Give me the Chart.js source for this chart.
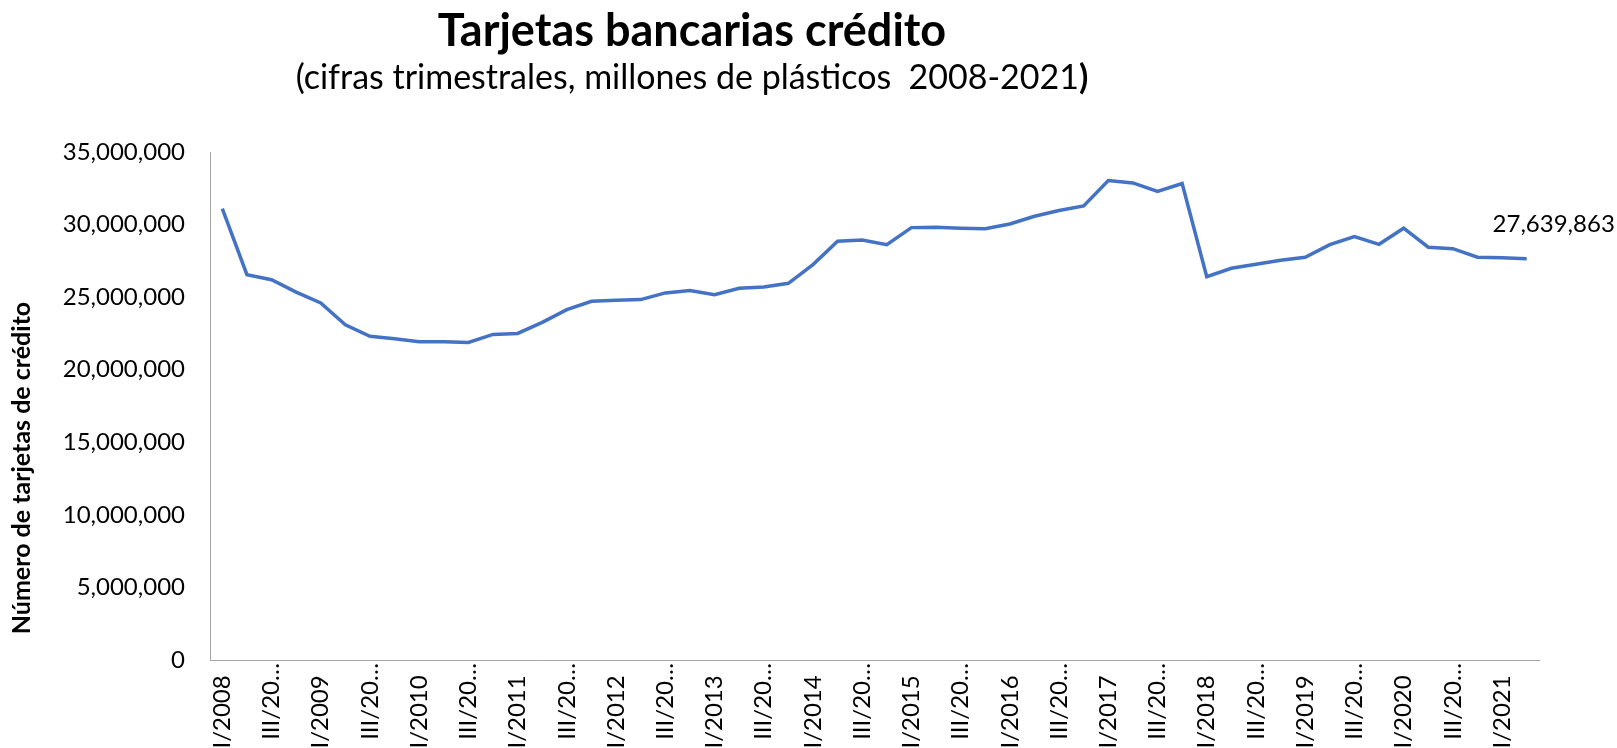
<!DOCTYPE html>
<html>
<head>
<meta charset="utf-8">
<script src="https://cdn.jsdelivr.net/npm/chart.js@4.4.1/dist/chart.umd.min.js"></script>
<style>
    html, body { margin: 0; padding: 0; background: #fff; overflow: hidden; }
    #wrap { position: relative; width: 1617px; height: 748px; }
    .title { position: absolute; left: 0; width: 1384px; text-align: center; color: #000; font-family: Lato, "Noto Sans", sans-serif; white-space: nowrap; }
    #main-title { top: 2px; font-size: 45px; line-height: 54px; font-weight: bold; }
    #sub-title { top: 55px; font-size: 34px; line-height: 41px; }
    canvas { position: absolute; left: 0; top: 0; }
</style>
</head>
<body>
<div id="wrap">
    <canvas id="cards-chart" width="1617" height="748"></canvas>
    <div class="title" id="main-title">Tarjetas bancarias crédito</div>
    <div class="title" id="sub-title">(cifras trimestrales, millones de plásticos &nbsp;2008-2021<b>)</b></div>
</div>
<script>
/* -------- DATA START -------- */
const years = [2008, 2009, 2010, 2011, 2012, 2013, 2014, 2015, 2016, 2017, 2018, 2019, 2020, 2021];
const quarters = ["I", "II", "III", "IV"];
const lastQuarterCount = 2; // 2021 ends at II

// credit cards per quarter, I/2008 .. II/2021
const creditCards = [
    31100000, 26550000, 26200000, 25350000,
    24600000, 23100000, 22300000, 22140000,
    21930000, 21930000, 21880000, 22430000,
    22500000, 23260000, 24140000, 24710000,
    24780000, 24830000, 25290000, 25450000,
    25170000, 25610000, 25700000, 25950000,
    27240000, 28850000, 28940000, 28620000,
    29790000, 29810000, 29750000, 29720000,
    30040000, 30570000, 30970000, 31280000,
    33030000, 32870000, 32280000, 32830000,
    26410000, 26990000, 27260000, 27540000,
    27750000, 28620000, 29170000, 28640000,
    29750000, 28440000, 28340000, 27750000,
    27720000, 27639863
];

const yTicks = [0, 5000000, 10000000, 15000000, 20000000, 25000000, 30000000, 35000000];
const yAxisTitle = "Número de tarjetas de crédito";
/* -------- DATA END -------- */

/* -------- GLOBAL VARIABLES START -------- */
const FONT = "Lato, 'Noto Sans', sans-serif";
const LINE_COLOR = "#4472C4";
const AXIS_COLOR = "#a6a6a6";
/* -------- GLOBAL VARIABLES END -------- */

/* -------- FUNCTIONS START -------- */
function buildLabels() {
    const labels = [];
    years.forEach((year, i) => {
        const count = i === years.length - 1 ? lastQuarterCount : quarters.length;
        for (let q = 0; q < count; q++) {
            labels.push(quarters[q] + "/" + year);
        }
    });
    return labels;
}

function formatNumber(value) {
    return value.toLocaleString("en-US");
}

// Excel shows every second label and cuts the long ones;
// full labels sit a bit lower than the cut ones, hence the trailing spaces
function xTickLabel(value, index) {
    if (index % 2 !== 0) return "";
    const label = this.getLabelForValue(value);
    return label.startsWith("III/") ? label.slice(0, 6) + "…" : label + "  ";
}

// value label next to the last point + y axis title (sits below the axis centre in the original)
const extraText = {
    id: "extraText",
    afterDatasetsDraw(chart) {
        const meta = chart.getDatasetMeta(0);
        const point = meta.data[meta.data.length - 1];
        const ctx = chart.ctx;
        ctx.save();
        ctx.fillStyle = "#000";
        ctx.textAlign = "center";
        ctx.textBaseline = "middle";
        ctx.font = "24px " + FONT;
        ctx.fillText(formatNumber(creditCards[creditCards.length - 1]), point.x + 27, point.y - 35);

        ctx.font = "bold 25px " + FONT;
        ctx.translate(22, chart.chartArea.top + (chart.chartArea.bottom - chart.chartArea.top) / 2 + 62);
        ctx.rotate(-Math.PI / 2);
        ctx.fillText(yAxisTitle, 0, 0);
        ctx.restore();
    }
};
/* -------- FUNCTIONS END -------- */

/* -------- PROGRAM START -------- */
const ctx = document.getElementById("cards-chart").getContext("2d");
new Chart(ctx, {
    type: "line",
    data: {
        labels: buildLabels(),
        datasets: [{
            data: creditCards,
            borderColor: LINE_COLOR,
            borderWidth: 3.5,
            pointRadius: 0,
            tension: 0,
            fill: false
        }]
    },
    options: {
        responsive: false,
        animation: false,
        layout: { padding: { top: 152, right: 78, left: 0, bottom: 0 } },
        plugins: {
            legend: { display: false },
            tooltip: { enabled: false }
        },
        scales: {
            x: {
                offset: true,
                grid: { display: false, drawTicks: false, tickLength: 0 },
                border: { display: true, color: AXIS_COLOR, width: 1 },
                ticks: {
                    autoSkip: false,
                    maxRotation: 90,
                    minRotation: 90,
                    padding: 3,
                    color: "#000",
                    font: { family: FONT, size: 24 },
                    callback: xTickLabel
                },
                afterFit(scale) { scale.height = 88; }
            },
            y: {
                min: 0,
                max: 35000000,
                afterBuildTicks(scale) { scale.ticks = yTicks.map(v => ({ value: v })); },
                grid: { display: false, drawTicks: false, tickLength: 0 },
                border: { display: true, color: AXIS_COLOR, width: 1 },
                ticks: {
                    padding: 25,
                    color: "#000",
                    font: { family: FONT, size: 24 },
                    callback: (value) => formatNumber(value)
                },
                afterFit(scale) { scale.width = 210; }
            }
        }
    },
    plugins: [extraText]
});
/* -------- PROGRAM END -------- */
</script>
</body>
</html>
